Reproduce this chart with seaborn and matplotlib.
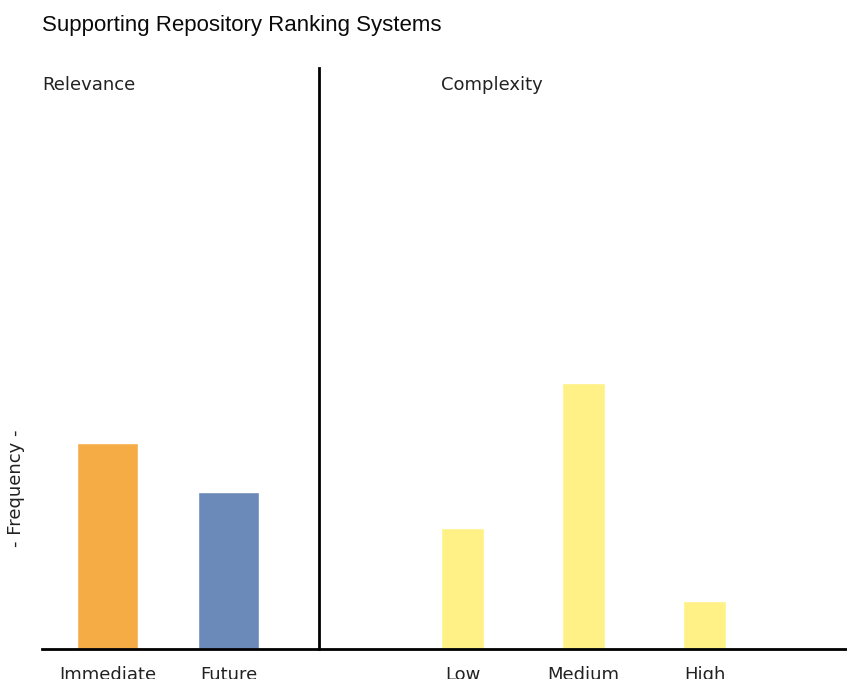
import matplotlib
matplotlib.use("Agg")
import matplotlib.pyplot as plt
import seaborn as sns
import pandas as pd

# data
relevance_cats = ["Immediate", "Future"]
relevance_vals = [35.5, 27.0]
relevance_colors = ["#F5AC45", "#6B89B9"]

complexity_cats = ["Low", "Medium", "High"]
complexity_vals = [20.8, 45.8, 8.3]
complexity_color = "#FFF185"

sns.set_theme(style="white")
plt.rcParams["font.family"] = ["DejaVu Sans"]

W, H = 847, 679
fig = plt.figure(figsize=(W / 100, H / 100), dpi=100)

# axes placement in pixels (left, right, top, bottom)
def px_axes(x0, x1, y0, y1):
    return fig.add_axes([x0 / W, 1 - y1 / H, (x1 - x0) / W, (y1 - y0) / H])

ax1 = px_axes(42, 319, 68, 649)
ax2 = px_axes(319, 847, 68, 649)

df1 = pd.DataFrame({"cat": relevance_cats, "val": relevance_vals})
df2 = pd.DataFrame({"cat": complexity_cats, "val": complexity_vals})

sns.barplot(data=df1, x="cat", y="val", hue="cat", palette=relevance_colors,
            width=0.5, legend=False, ax=ax1, saturation=1)
sns.barplot(data=df2, x="cat", y="val", color=complexity_color,
            width=0.355, ax=ax2, saturation=1)

ax1.set_xlim(-0.541, 1.748)
ax2.set_xlim(-1.186, 3.178)

for ax in (ax1, ax2):
    ax.set_ylim(0, 100)
    ax.set_yticks([])
    ax.set_xlabel("")
    ax.set_ylabel("")
    ax.tick_params(axis="x", length=0, pad=12, labelsize=13, labelcolor="#222222")
    for s in ("top", "right", "left"):
        ax.spines[s].set_visible(False)
    ax.spines["bottom"].set_color("black")
    ax.spines["bottom"].set_linewidth(2)

ax2.spines["left"].set_visible(True)
ax2.spines["left"].set_color("black")
ax2.spines["left"].set_linewidth(2)

# section headings
fig.text(42 / W, 1 - 85 / H, "Relevance", fontsize=13, color="#222222", va="center")
fig.text(441 / W, 1 - 85 / H, "Complexity", fontsize=13, color="#222222", va="center")

fig.text(42 / W, 1 - 26 / H, "Supporting Repository Ranking Systems",
         fontsize=16, family="Liberation Sans", color="#0a0a0a", va="center")

fig.text(16 / W, 1 - 488 / H, "- Frequency -", rotation=90, fontsize=13,
         color="#222222", va="center", ha="center")

fig.savefig("out.png", dpi=100)
